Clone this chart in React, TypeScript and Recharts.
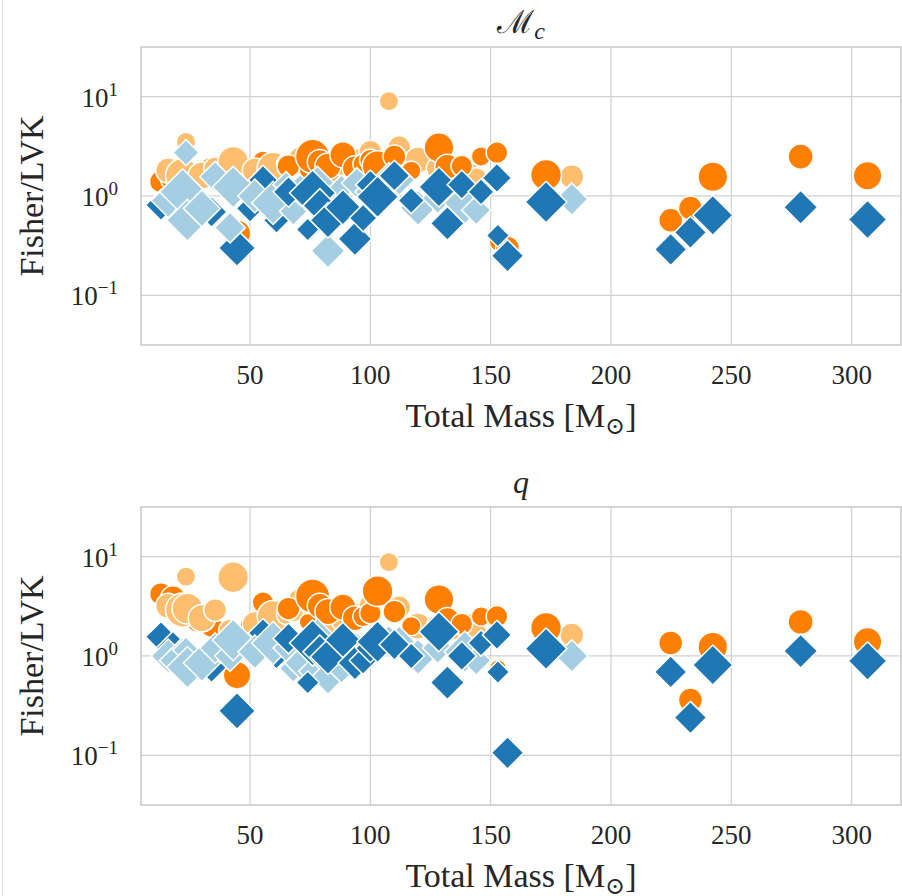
import React from 'react';
import {
  ScatterChart,
  Scatter,
  XAxis,
  YAxis,
  CartesianGrid,
  ReferenceArea,
} from 'recharts';

// events of the first group (dark markers)
const darkMass = [13, 18, 28, 34, 44.6, 50, 55.4, 61, 66, 74, 76, 79, 82.4, 88.6, 93.6, 97, 100, 103, 110, 117, 128.5, 132, 138, 146, 152.6, 153, 157, 173, 224.8, 233, 242.3, 278.8, 306.6];
const darkSnr = [20, 22, 18, 20, 24, 18, 19, 17, 20, 15, 30, 22, 23, 23, 22, 18, 19, 27, 20, 17, 26, 22, 19, 17, 19, 15, 21, 27, 21, 21, 26, 22, 25];
const darkMcCircle = [1.4, 1.5, 1.6, 1.9, 0.42, 1.7, 2.2, 1.6, 2.0, 1.8, 2.5, 2.2, 2.0, 2.6, 1.9, 2.1, 2.3, 2.0, 2.5, 1.8, 3.07, 1.97, 2.0, 2.5, 2.73, 0.34, 0.3, 1.63, 0.57, 0.755, 1.56, 2.49, 1.6];
const darkMcDiamond = [0.81, 1.0, 0.9, 0.69, 0.3, 0.75, 1.45, 0.57, 1.1, 0.46, 1.07, 0.8, 0.57, 0.77, 0.37, 0.6, 1.3, 0.98, 1.6, 0.9, 1.23, 0.53, 1.3, 1.1, 1.52, 0.4, 0.25, 0.87, 0.29, 0.43, 0.64, 0.77, 0.58];
const darkQCircle = [4.2, 3.8, 2.2, 2.0, 0.64, 2.0, 3.45, 2.5, 3.0, 2.2, 4.0, 3.2, 2.8, 3.1, 2.4, 2.5, 2.7, 4.5, 2.8, 2.0, 3.7, 2.3, 2.1, 2.5, 2.5, 0.75, 0.105, 1.92, 1.35, 0.36, 1.23, 2.2, 1.39];
const darkQDiamond = [1.56, 1.2, 0.9, 0.77, 0.28, 1.1, 1.7, 1.0, 1.5, 0.54, 1.35, 1.1, 0.98, 1.45, 0.85, 0.9, 1.2, 1.39, 1.3, 1.0, 1.75, 0.54, 1.0, 1.35, 1.63, 0.69, 0.106, 1.18, 0.69, 0.24, 0.81, 1.12, 0.89];

// events of the second group (light markers)
const lightMass = [16, 22, 23.4, 24, 30, 35.5, 41.7, 43, 52, 59.6, 65, 68, 70.8, 75, 78, 82.4, 88, 94.4, 100, 107.7, 112, 119.8, 128, 139.3, 144, 183.7];
const lightSnr = [22, 30, 17, 27, 24, 20, 20, 27, 22, 28, 17, 18, 20, 15, 24, 22, 17, 20, 20, 17, 20, 23, 20, 27, 19, 21];
const lightMcCircle = [1.8, 1.6, 3.5, 1.2, 1.6, 1.9, 1.3, 2.2, 1.8, 1.9, 2.1, 2.2, 2.4, 1.4, 2.2, 1.7, 2.0, 2.3, 2.8, 9.0, 3.1, 2.3, 1.9, 1.6, 1.5, 1.56];
const lightMcDiamond = [0.9, 1.1, 2.73, 0.57, 0.75, 1.56, 0.48, 1.23, 1.0, 0.85, 1.3, 0.7, 1.15, 0.46, 1.3, 0.28, 1.2, 1.35, 1.1, 1.6, 1.45, 0.76, 0.95, 0.85, 0.72, 0.93];
const lightQCircle = [3.2, 2.9, 6.3, 3.0, 2.4, 2.9, 1.8, 6.2, 2.1, 2.5, 2.6, 2.8, 3.7, 1.6, 2.8, 1.9, 2.2, 2.6, 3.2, 8.8, 3.1, 2.0, 2.0, 1.9, 1.7, 1.63];
const lightQDiamond = [1.0, 0.9, 1.15, 0.77, 0.85, 1.2, 1.0, 1.45, 1.1, 1.35, 1.2, 0.75, 0.85, 0.7, 1.55, 0.61, 0.72, 1.2, 1.3, 1.5, 1.4, 0.98, 1.2, 1.1, 0.9, 1.0];

const xTicks = [50, 100, 150, 200, 250, 300];
const yTicks = [0.1, 1, 10];
const yTickExp = ['\u22121', '0', '1'];

const X_DOMAIN: [number, number] = [4.7, 320.5];
const Y_DOMAIN: [number, number] = [0.0316, 31.6];
// below this mass the light markers sit on top, above it the dark ones do
const SPLIT = 65;

const DARK_ORANGE = '#ff7f00';
const LIGHT_ORANGE = '#fdbf6f';
const DARK_BLUE = '#1f78b4';
const LIGHT_BLUE = '#a6cee3';
const GRID = '#d0d0d0';
const TEXT = '#262626';
const FONT = '"Liberation Serif", "DejaVu Serif", serif';

type Pt = { mass: number; value: number; snr: number };

const toPoints = (mass: number[], vals: number[], snr: number[]): Pt[] =>
  mass.map((m, i) => ({ mass: m, value: vals[i], snr: snr[i] }));
const low = (pts: Pt[]) => pts.filter((p) => p.mass < SPLIT);
const high = (pts: Pt[]) => pts.filter((p) => p.mass >= SPLIT);

const circleShape = (fill: string) => (props: any) => {
  const { cx, cy, payload } = props;
  if (cx == null || cy == null) return <g />;
  return <circle cx={cx} cy={cy} r={payload.snr * 0.57} fill={fill} stroke="#fff" strokeWidth={1.5} />;
};

const diamondShape = (fill: string) => (props: any) => {
  const { cx, cy, payload } = props;
  if (cx == null || cy == null) return <g />;
  const h = payload.snr * 0.77;
  return (
    <path
      d={`M${cx},${cy - h}L${cx + h},${cy}L${cx},${cy + h}L${cx - h},${cy}Z`}
      fill={fill}
      stroke="#fff"
      strokeWidth={1.5}
    />
  );
};

const XTick = (props: any) => {
  const { x, y, payload } = props;
  return (
    <text x={x} y={y + 39} textAnchor="middle" fontFamily={FONT} fontSize={27} fill={TEXT}>
      {payload.value}
    </text>
  );
};

const YTick = (props: any) => {
  const { x, y, payload } = props;
  const idx = yTicks.indexOf(payload.value);
  return (
    <text x={x - 23} y={y + 10} textAnchor="end" fontFamily={FONT} fontSize={27} fill={TEXT}>
      10
      <tspan fontSize={19} dy={-11}>{yTickExp[idx]}</tspan>
    </text>
  );
};

const xLabel = (props: any) => {
  const { viewBox } = props;
  const cx = viewBox.x + viewBox.width / 2;
  return (
    <text x={cx} y={427} textAnchor="middle" fontFamily={FONT} fontSize={34} fill={TEXT}>
      Total Mass [M
      <tspan fontSize={24} dy={7}>{'\u2299'}</tspan>
      <tspan dy={-7}>]</tspan>
    </text>
  );
};

const yLabel = (props: any) => {
  const { viewBox } = props;
  const cy = viewBox.y + viewBox.height / 2;
  return (
    <text
      x={43}
      y={cy}
      transform={`rotate(-90, 43, ${cy})`}
      textAnchor="middle"
      fontFamily={FONT}
      fontSize={34}
      fill={TEXT}
    >
      Fisher/LVK
    </text>
  );
};

interface PanelProps {
  top: number;
  title: React.ReactNode;
  darkCircle: number[];
  darkDiamond: number[];
  lightCircle: number[];
  lightDiamond: number[];
}

const Panel = ({ top, title, darkCircle, darkDiamond, lightCircle, lightDiamond }: PanelProps) => {
  const dc = toPoints(darkMass, darkCircle, darkSnr);
  const lc = toPoints(lightMass, lightCircle, lightSnr);
  const dd = toPoints(darkMass, darkDiamond, darkSnr);
  const ld = toPoints(lightMass, lightDiamond, lightSnr);
  return (
    <div style={{ position: 'absolute', left: 0, top, width: 902, height: 450 }}>
      <div
        style={{
          position: 'absolute',
          left: 141,
          width: 760,
          top: 2,
          textAlign: 'center',
          fontFamily: FONT,
          fontSize: 32,
          color: TEXT,
          lineHeight: '40px',
        }}
      >
        {title}
      </div>
      <ScatterChart width={902} height={450} margin={{ top: 47, right: 1, left: 41, bottom: 45 }}>
        <CartesianGrid stroke={GRID} strokeWidth={1.2} />
        <XAxis
          type="number"
          dataKey="mass"
          domain={X_DOMAIN}
          ticks={xTicks}
          allowDataOverflow
          axisLine={false}
          tickLine={false}
          tickSize={0}
          tickMargin={0}
          height={60}
          tick={<XTick />}
          label={xLabel}
        />
        <YAxis
          type="number"
          dataKey="value"
          scale="log"
          domain={Y_DOMAIN}
          ticks={yTicks}
          allowDataOverflow
          axisLine={false}
          tickLine={false}
          tickSize={0}
          tickMargin={0}
          width={100}
          tick={<YTick />}
          label={yLabel}
        />
        <ReferenceArea
          x1={X_DOMAIN[0]}
          x2={X_DOMAIN[1]}
          y1={Y_DOMAIN[0]}
          y2={Y_DOMAIN[1]}
          fill="none"
          stroke={GRID}
          strokeWidth={1.5}
        />
        <Scatter data={low(dc)} shape={circleShape(DARK_ORANGE)} isAnimationActive={false} />
        <Scatter data={low(lc)} shape={circleShape(LIGHT_ORANGE)} isAnimationActive={false} />
        <Scatter data={high(lc)} shape={circleShape(LIGHT_ORANGE)} isAnimationActive={false} />
        <Scatter data={high(dc)} shape={circleShape(DARK_ORANGE)} isAnimationActive={false} />
        <Scatter data={low(dd)} shape={diamondShape(DARK_BLUE)} isAnimationActive={false} />
        <Scatter data={low(ld)} shape={diamondShape(LIGHT_BLUE)} isAnimationActive={false} />
        <Scatter data={high(ld)} shape={diamondShape(LIGHT_BLUE)} isAnimationActive={false} />
        <Scatter data={high(dd)} shape={diamondShape(DARK_BLUE)} isAnimationActive={false} />
      </ScatterChart>
    </div>
  );
};

const App = () => (
  <div
    style={{
      position: 'absolute',
      left: 0,
      top: 0,
      width: 902,
      height: 896,
      overflow: 'hidden',
      background: '#fff',
    }}
  >
    <div style={{ position: 'absolute', left: 2, top: 0, width: 1, height: 896, background: '#e2e2e2' }} />
    <Panel
      top={0}
      title={
        <span>
          {'\u2133'}
          <span style={{ fontStyle: 'italic', fontSize: 24, position: 'relative', top: 6 }}>c</span>
        </span>
      }
      darkCircle={darkMcCircle}
      darkDiamond={darkMcDiamond}
      lightCircle={lightMcCircle}
      lightDiamond={lightMcDiamond}
    />
    <Panel
      top={460}
      title={<span style={{ fontStyle: 'italic' }}>q</span>}
      darkCircle={darkQCircle}
      darkDiamond={darkQDiamond}
      lightCircle={lightQCircle}
      lightDiamond={lightQDiamond}
    />
  </div>
);

export default App;
